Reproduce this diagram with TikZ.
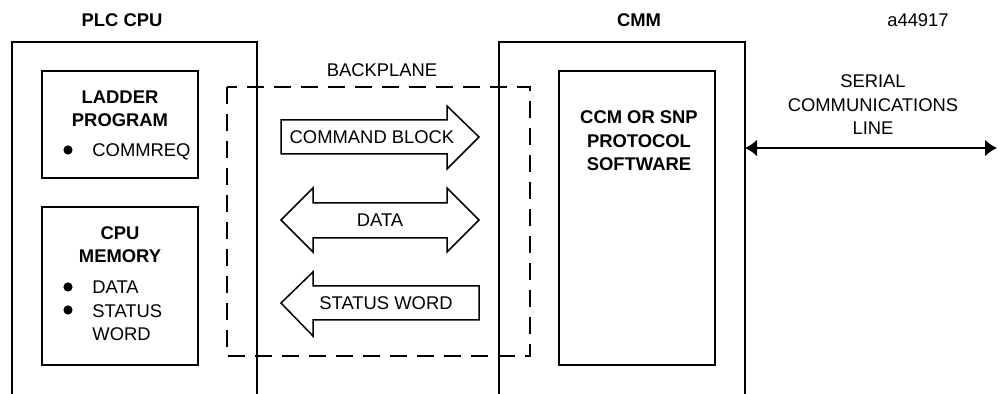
\documentclass[tikz,border=0pt]{standalone}
\usepackage{fontspec}
\setmainfont{Liberation Sans}
\usetikzlibrary{arrows.meta}
\begin{document}
\begin{tikzpicture}[x=0.5pt, y=-0.5pt,
    lbl/.style={font=\fontsize{9.2}{11.75}\selectfont, inner sep=0pt, anchor=base},
    ttl/.style={lbl, font=\fontsize{9.2}{11.75}\selectfont\bfseries},
    box/.style={line width=1pt},
    flow/.style={line width=0.75pt, line join=miter}]
    \useasboundingbox (0,0) rectangle (998,394);

    % Modulos
    \draw[box] (12,394) -- (12,42) -- (257,42) -- (257,394);
    \draw[box] (499,394) -- (499,42) -- (745,42) -- (745,394);
    \node[ttl] (plc) at (122,27) {PLC CPU};
    \node[ttl] (cmm) at (639,27) {CMM};
    \node[lbl] (fig) at (918,26.5) {a44917};

    % Cajas internas
    \draw[box] (42,71) rectangle (198,178);
    \draw[box] (42,207) rectangle (198,365);
    \draw[box] (559,71) rectangle (715,365);
    \node[ttl, align=center] (ladder) at (120,127) {LADDER\\PROGRAM};
    \fill (68,150) circle (2.3pt);
    \node[lbl, anchor=base west] (commreq) at (92,157) {COMMREQ};
    \node[ttl, align=center] (cpumem) at (120,263) {CPU\\MEMORY};
    \fill (68,287) circle (2.3pt);
    \fill (68,310) circle (2.3pt);
    \node[lbl, anchor=base west, align=left] (memdata) at (92,341) {DATA\\STATUS\\WORD};
    \node[ttl, align=center] (proto) at (639,171) {CCM OR SNP\\PROTOCOL\\SOFTWARE};

    % Backplane
    \draw[line width=1pt, dash pattern=on 8.5pt off 5pt] (227,87) rectangle (530,356);
    \node[lbl] (bkp) at (382,77) {BACKPLANE};

    % Flechas de bloque
    \draw[flow] (281,120) -- (447,120) -- (447,106) -- (479,137) -- (447,169)
        -- (447,154) -- (281,154) -- cycle;
    \node[lbl] (cmd) at (372,144) {COMMAND BLOCK};
    \draw[flow] (281,220) -- (313,188) -- (313,203) -- (447,203) -- (447,188)
        -- (479,220) -- (447,252) -- (447,238) -- (313,238) -- (313,252) -- cycle;
    \node[lbl] (data) at (380,227) {DATA};
    \draw[flow] (281,303) -- (313,272) -- (313,286) -- (479,286) -- (479,320)
        -- (313,320) -- (313,336) -- cycle;
    \node[lbl] (status) at (386,310) {STATUS WORD};

    % Linea serie
    \coordinate (cmmR) at (745,148);
    \coordinate (lineR) at (997,148);
    \draw[line width=1pt, {Latex[length=6pt,width=8.5pt]}-{Latex[length=6pt,width=8.5pt]}] (cmmR) -- (lineR);
    \node[lbl, align=center] (serial) at (873,135) {SERIAL\\COMMUNICATIONS\\LINE};
\end{tikzpicture}
\end{document}
